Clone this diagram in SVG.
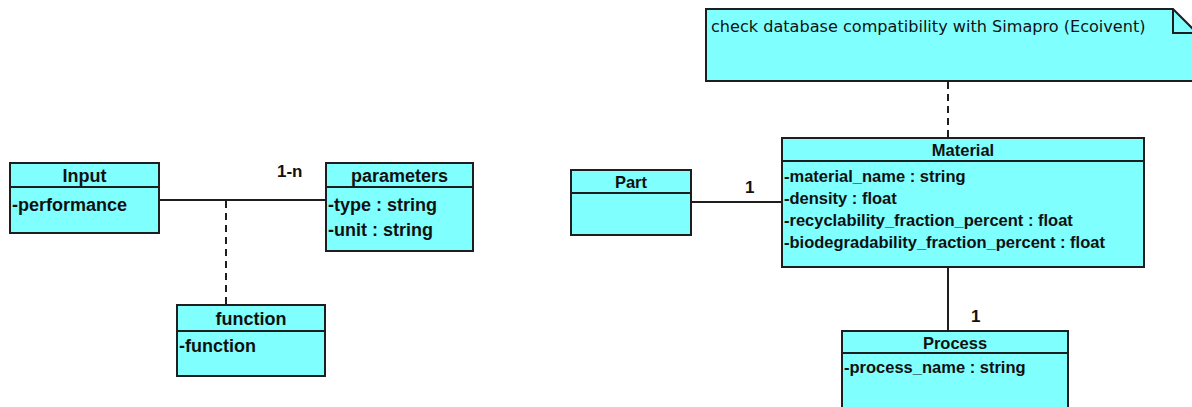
<svg xmlns="http://www.w3.org/2000/svg" width="1192" height="407" viewBox="0 0 1192 407">
<style>
.box{fill:#80ffff;stroke:#1e1e1e;stroke-width:2}
.sep{stroke:#1e1e1e;stroke-width:2;fill:none}
.ln{stroke:#1e1e1e;stroke-width:2;fill:none}
.dash{stroke:#1e1e1e;stroke-width:2;fill:none;stroke-dasharray:7,5}
.hL{font-family:"Liberation Sans",Arial,sans-serif;font-weight:bold;font-size:18px;fill:#111;text-anchor:middle}
.aL{font-family:"Liberation Sans",Arial,sans-serif;font-weight:bold;font-size:18px;fill:#111}
.hR{font-family:"Liberation Sans",Arial,sans-serif;font-weight:bold;font-size:16.5px;fill:#111;text-anchor:middle}
.aR{font-family:"Liberation Sans",Arial,sans-serif;font-weight:bold;font-size:16.5px;fill:#111}
.lbl{font-family:"Liberation Sans",Arial,sans-serif;font-weight:bold;font-size:17px;fill:#111}
.note{font-family:"DejaVu Sans",Verdana,sans-serif;font-size:16.1px;fill:#111}
</style>
<g id="connectors">
<line class="ln" x1="160" y1="200" x2="326" y2="200"/>
<line class="dash" x1="226" y1="201" x2="226" y2="304"/>
<line class="ln" x1="691" y1="202" x2="782" y2="202"/>
<line class="ln" x1="948" y1="267" x2="948" y2="331"/>
<line class="dash" x1="948" y1="82" x2="948" y2="138"/>
<text class="lbl" x="277" y="177">1-n</text>
<text class="lbl" x="745" y="193">1</text>
<text class="lbl" x="971" y="322">1</text>
</g>
<g id="note">
<path class="box" d="M706,9 H1173 L1200,36 V81 H706 Z"/>
<path class="sep" d="M1173,9 V33 H1200"/>
<text class="note" x="711" y="32">check database compatibility with Simapro (Ecoivent)</text>
</g>
<g id="input">
<rect class="box" x="10" y="163" width="149" height="70"/>
<line class="sep" x1="10" y1="187" x2="159" y2="187"/>
<text class="hL" x="84.5" y="182">Input</text>
<text class="aL" x="12" y="211">-performance</text>
</g>
<g id="parameters">
<rect class="box" x="326" y="163" width="147" height="88"/>
<line class="sep" x1="326" y1="187" x2="473" y2="187"/>
<text class="hL" x="399.5" y="182">parameters</text>
<text class="aL" x="328" y="211">-type : string</text>
<text class="aL" x="328" y="236">-unit : string</text>
</g>
<g id="function">
<rect class="box" x="177" y="305" width="148" height="71"/>
<line class="sep" x1="177" y1="331" x2="325" y2="331"/>
<text class="hL" x="251" y="325">function</text>
<text class="aL" x="179" y="352">-function</text>
</g>
<g id="part">
<rect class="box" x="571" y="170" width="120" height="65"/>
<line class="sep" x1="571" y1="193" x2="691" y2="193"/>
<text class="hR" x="631" y="188">Part</text>
</g>
<g id="material">
<rect class="box" x="782" y="138" width="362" height="129"/>
<line class="sep" x1="782" y1="161" x2="1144" y2="161"/>
<text class="hR" x="963" y="156">Material</text>
<text class="aR" x="784" y="182">-material_name : string</text>
<text class="aR" x="784" y="204">-density : float</text>
<text class="aR" x="784" y="226">-recyclability_fraction_percent : float</text>
<text class="aR" x="784" y="248">-biodegradability_fraction_percent : float</text>
</g>
<g id="process">
<rect class="box" x="842" y="331" width="226" height="90"/>
<line class="sep" x1="842" y1="353" x2="1068" y2="353"/>
<text class="hR" x="955" y="349">Process</text>
<text class="aR" x="844" y="373">-process_name : string</text>
</g>
</svg>
